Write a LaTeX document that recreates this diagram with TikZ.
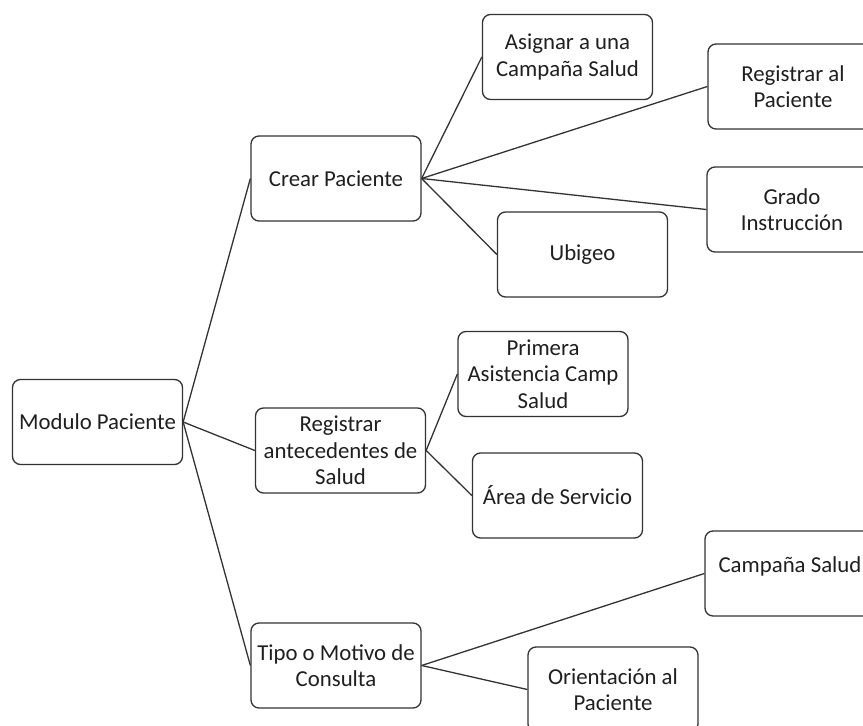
\documentclass[tikz,border=0pt]{standalone}
\usepackage{fontspec}
\setmainfont{Carlito}
\definecolor{edgegray}{HTML}{333333}
\definecolor{txtgray}{HTML}{1F1F1F}
\begin{document}
\begin{tikzpicture}[x=1pt,y=-1pt,
  box/.style={draw=edgegray, line width=1.3pt, rounded corners=8pt, fill=white,
    minimum width=170pt, minimum height=85pt, inner sep=0pt, align=center,
    text=txtgray, font=\fontsize{22.8}{26.5}\selectfont},
  link/.style={draw=edgegray, line width=1.3pt}]
\useasboundingbox (0,0) rectangle (863,726);
\clip (0,0) rectangle (863,726);
\fill[white] (0,0) rectangle (863,726);
% nodes
\node[box] (mod)   at (97.5,422)   {Modulo Paciente};
\node[box] (crear) at (336,178.5)  {Crear Paciente};
\node[box] (asig)  at (567.5,57)   {Asignar a una\\Campaña Salud};
\node[box] (regp)  at (793,86.5)   {Registrar al\\Paciente};
\node[box] (grado) at (792,209.5)  {Grado\\Instrucción};
\node[box] (ubi)   at (582.5,254.5){Ubigeo};
\node[box] (rant)  at (340.5,450.5){Registrar\\antecedentes de\\Salud};
\node[box] (prim)  at (543,374)    {Primera\\Asistencia Camp\\Salud};
\node[box] (area)  at (557.5,495.5){Área de Servicio};
\node[box] (tipo)  at (336,665.5)  {Tipo o Motivo de\\Consulta};
\node[box] (camp)  at (790,573.5)  {Campaña Salud\\[-16pt]\strut};
\node[box] (orie)  at (613,689.5)  {Orientación al\\Paciente};
% connectors
\draw[link] (mod.east) -- (crear.west);
\draw[link] (mod.east) -- (rant.west);
\draw[link] (mod.east) -- (tipo.west);
\draw[link] (crear.east) -- (asig.west);
\draw[link] (crear.east) -- (regp.west);
\draw[link] (crear.east) -- (grado.west);
\draw[link] (crear.east) -- (ubi.west);
\draw[link] (rant.east) -- (prim.west);
\draw[link] (rant.east) -- (area.west);
\draw[link] (tipo.east) -- (camp.west);
\draw[link] (tipo.east) -- (orie.west);
\end{tikzpicture}
\end{document}
